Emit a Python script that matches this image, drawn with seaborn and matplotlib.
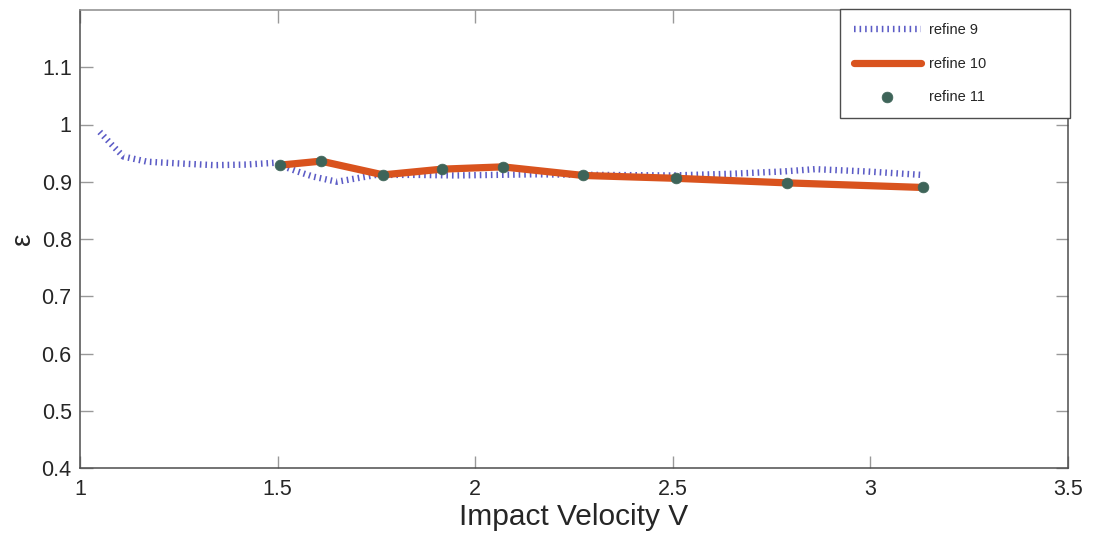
import numpy as np
import pandas as pd
import matplotlib
matplotlib.use("Agg")
import matplotlib.pyplot as plt
import seaborn as sns

# ---- data ----
v9 = [1.05, 1.08, 1.11, 1.17, 1.25, 1.34, 1.42, 1.49, 1.55, 1.59, 1.65, 1.70,
      1.75, 1.85, 1.95, 2.05, 2.15, 2.30, 2.50, 2.65, 2.78, 2.86, 2.99, 3.13]
e9 = [0.987, 0.965, 0.944, 0.935, 0.932, 0.929, 0.930, 0.933, 0.918, 0.909,
      0.900, 0.906, 0.912, 0.912, 0.911, 0.912, 0.913, 0.912, 0.911, 0.914,
      0.918, 0.922, 0.918, 0.912]

v10 = [1.506, 1.61, 1.767, 1.916, 2.07, 2.273, 2.508, 2.79, 3.133]
e10 = [0.929, 0.936, 0.912, 0.922, 0.926, 0.911, 0.906, 0.898, 0.890]

v11 = [1.506, 1.61, 1.767, 1.916, 2.07, 2.273, 2.508, 2.79, 3.133]
e11 = [0.929, 0.936, 0.912, 0.922, 0.926, 0.911, 0.906, 0.898, 0.890]

labels = ["refine 9", "refine 10", "refine 11"]
xticks = [1, 1.5, 2, 2.5, 3, 3.5]
xticklabels = ["1", "1.5", "2", "2.5", "3", "3.5"]
yticks = [0.4, 0.5, 0.6, 0.7, 0.8, 0.9, 1.0, 1.1]
yticklabels = ["0.4", "0.5", "0.6", "0.7", "0.8", "0.9", "1", "1.1"]

sns.set_style("ticks")
plt.rcParams["font.family"] = ["Liberation Sans", "DejaVu Sans"]

fig = plt.figure(figsize=(10.99, 5.35), dpi=100)
ax = fig.add_axes([80 / 1099, 1 - 468 / 535, 988 / 1099, 458 / 535])

df9 = pd.DataFrame({"v": v9, "e": e9})
df10 = pd.DataFrame({"v": v10, "e": e10})
df11 = pd.DataFrame({"v": v11, "e": e11})

sns.lineplot(data=df9, x="v", y="e", ax=ax, color="#5c5cc6", lw=4.6,
             sort=False, estimator=None, label=labels[0])
l9 = ax.lines[-1]
l9.set_dashes((0.25, 0.62))
l9.set_dash_capstyle("butt")

sns.lineplot(data=df10, x="v", y="e", ax=ax, color="#d9531e", lw=5.2,
             sort=False, estimator=None, label=labels[1])

sns.scatterplot(data=df11, x="v", y="e", ax=ax, color="#3e6459", s=60,
                edgecolor="#3e6459", linewidth=0.5, zorder=5, label=labels[2])

ax.set_xlim(1, 3.5)
ax.set_ylim(0.4, 1.2)
ax.set_xticks(xticks)
ax.set_xticklabels(xticklabels)
ax.set_yticks(yticks)
ax.set_yticklabels(yticklabels)

ax.tick_params(axis="both", direction="in", length=9, width=1, color="#999999",
               labelsize=15.5, labelcolor="#262626", top=True, right=True,
               pad=6)
ax.tick_params(axis="x", pad=8)
for name, sp in ax.spines.items():
    sp.set_visible(True)
    sp.set_linewidth(1.1)
    sp.set_color("#4d4d4d" if name in ("left", "bottom", "right") else "#8c8c8c")

ax.set_xlabel("Impact Velocity V", fontsize=21.5, color="#262626", labelpad=2)
ax.set_ylabel("ε", fontsize=20, color="#262626", labelpad=4)

handles, _ = ax.get_legend_handles_labels()
leg = ax.legend(handles=handles, labels=labels,
                loc="upper left", bbox_to_anchor=(0.769, 0.0, 0.233, 1.002),
                mode="expand", borderaxespad=0, fancybox=False, framealpha=1,
                edgecolor="#4d4d4d", fontsize=10.5, handlelength=4.6,
                handletextpad=0.55, labelspacing=1.35, borderpad=0.95)
leg.get_frame().set_linewidth(1.0)
for t in leg.get_texts():
    t.set_color("#262626")

fig.savefig("out.png", dpi=100, facecolor="white")
